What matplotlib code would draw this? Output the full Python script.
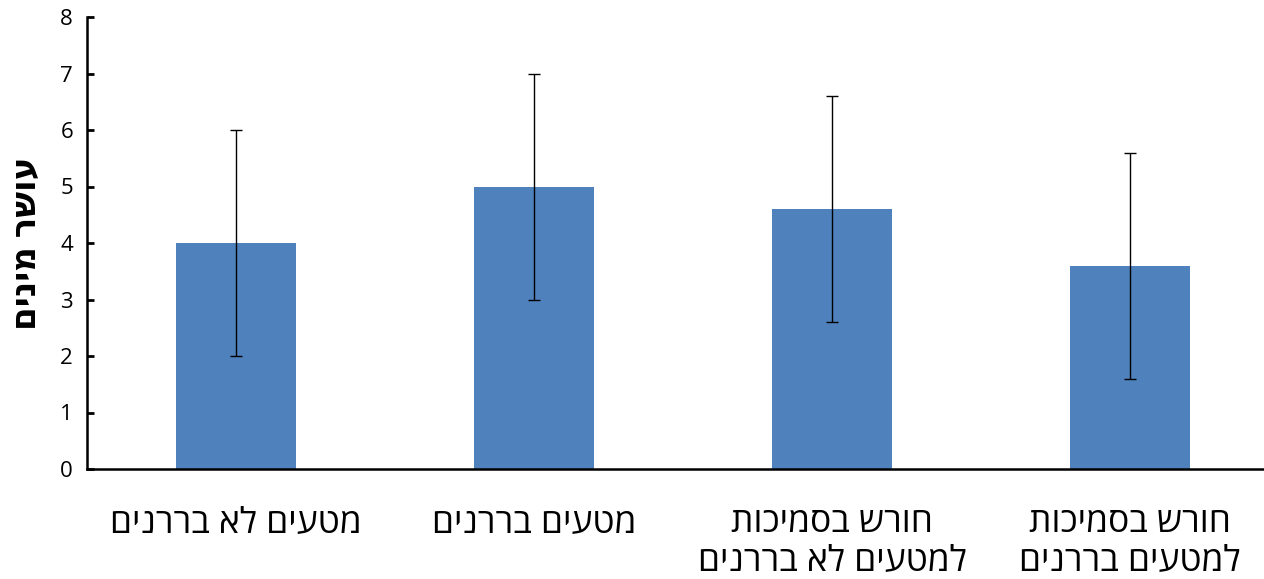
import matplotlib
matplotlib.use('Agg')
import matplotlib.pyplot as plt
import numpy as np

plt.rcParams['font.family'] = ['Open Sans', 'DejaVu Sans']

# data
categories = ['מטעים לא בררנים', 'מטעים בררנים',
              'חורש בסמיכות\nלמטעים לא בררנים', 'חורש בסמיכות\nלמטעים בררנים']
values = [4.0, 5.0, 4.6, 3.6]
errors = [2.0, 2.0, 2.0, 2.0]
ylabel = 'עושר מינים'


def rtl(s):
    # matplotlib has no bidi, reverse each line for display
    return '\n'.join(line[::-1] for line in s.split('\n'))


fig = plt.figure(figsize=(12.64, 5.79), dpi=100)
ax = fig.add_axes([87 / 1264, 1 - 469 / 579, 1192 / 1264, (469 - 17) / 579])

x = np.arange(len(categories))
ax.bar(x, values, width=0.4, color='#4f81bd', zorder=2)
ax.errorbar(x, values, yerr=errors, fmt='none', ecolor='black',
            elinewidth=1.0, capsize=4.5, capthick=1.0, zorder=3)

ax.set_xlim(-0.5, 3.5)
ax.set_ylim(0, 8)
ax.set_yticks(range(0, 9))
ax.set_xticks(x)
ax.set_xticklabels([rtl(c) for c in categories], fontsize=25.5, linespacing=1.12)
ax.tick_params(axis='x', length=0, pad=27)
ax.tick_params(axis='y', direction='in', length=5, width=2, labelsize=16, pad=10)

for side in ['top', 'right']:
    ax.spines[side].set_visible(False)
for side in ['left', 'bottom']:
    ax.spines[side].set_linewidth(1.8)

ax.set_ylabel(rtl(ylabel), fontsize=24.5, fontweight='bold', labelpad=12)

fig.savefig('out.png', dpi=100)
